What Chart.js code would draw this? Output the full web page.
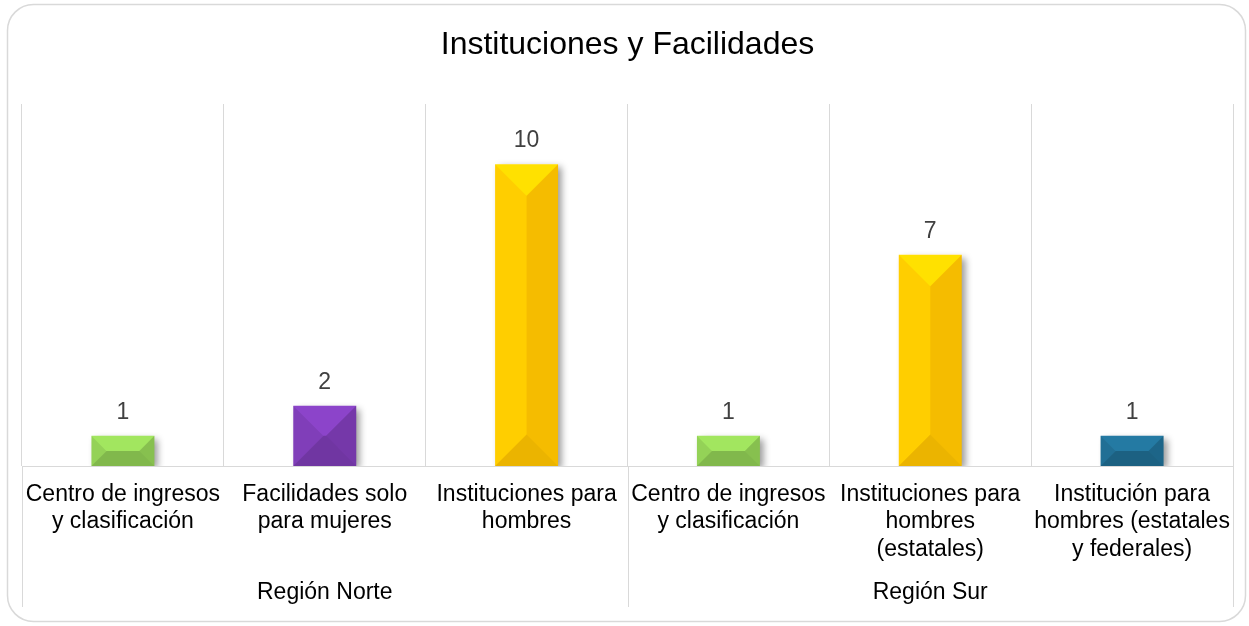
<!DOCTYPE html>
<html>
<head>
<meta charset="utf-8">
<script src="https://cdn.jsdelivr.net/npm/chart.js@4/dist/chart.umd.min.js"></script>
<style>
html,body{margin:0;padding:0;background:#fff;}
#wrap{position:relative;width:1249px;height:626px;}
</style>
</head>
<body>
<div id="wrap"><canvas id="c"></canvas></div>
<script>
const chartTitle = 'Instituciones y Facilidades';
const categories = [
  ['Centro de ingresos','y clasificación'],
  ['Facilidades solo','para mujeres'],
  ['Instituciones para','hombres'],
  ['Centro de ingresos','y clasificación'],
  ['Instituciones para','hombres','(estatales)'],
  ['Institución para','hombres (estatales','y federales)']
];
const regions = ['Región Norte','Región Sur'];
const regionSizes = [3, 3];
const values = [1, 2, 10, 1, 7, 1];
const barColors = ['#8DC853','#7A3BB0','#FFC400','#8DC853','#FFC400','#1F6A8E'];

const FONT = "'Liberation Sans', Arial, sans-serif";
const GRID = '#d9d9d9';

const frame = {
  id: 'frame',
  beforeDraw(chart) {
    const ctx = chart.ctx;
    ctx.save();
    ctx.fillStyle = '#fff';
    ctx.fillRect(0, 0, chart.width, chart.height);
    ctx.strokeStyle = GRID;
    ctx.lineWidth = 1.5;
    ctx.beginPath();
    ctx.roundRect(7.5, 4.5, chart.width - 11, chart.height - 9, 26);
    ctx.stroke();
    ctx.restore();
  }
};

const groupLines = {
  id: 'groupLines',
  afterDraw(chart) {
    const x = chart.scales.x, x2 = chart.scales.x2;
    const ctx = chart.ctx;
    const bounds = [x.left];
    let acc = 0;
    regionSizes.forEach(n => {
      acc += n;
      if (acc < categories.length) {
        bounds.push((x.getPixelForValue(acc - 1) + x.getPixelForValue(acc)) / 2);
      }
    });
    bounds.push(x.right);
    ctx.save();
    ctx.strokeStyle = GRID;
    ctx.lineWidth = 1;
    bounds.forEach(b => {
      const px = Math.round(b) + 0.5;
      ctx.beginPath();
      ctx.moveTo(px, chart.chartArea.bottom);
      ctx.lineTo(px, x2.bottom);
      ctx.stroke();
    });
    ctx.restore();
  }
};

function hexToRgba(hex, a) {
  const n = parseInt(hex.slice(1), 16);
  return 'rgba(' + ((n >> 16) & 255) + ',' + ((n >> 8) & 255) + ',' + (n & 255) + ',' + a + ')';
}

const bevel = {
  id: 'bevel',
  beforeDatasetsDraw(chart) {
    const ctx = chart.ctx;
    ctx.save();
    ctx.shadowColor = 'rgba(0,0,0,0.4)';
    ctx.shadowBlur = 7;
    ctx.shadowOffsetX = 4;
    ctx.shadowOffsetY = 3;
  },
  afterDatasetsDraw(chart) {
    const ctx = chart.ctx;
    ctx.restore();
    const meta = chart.getDatasetMeta(0);
    meta.data.forEach((bar, i) => {
      const p = bar.getProps(['x','y','width','base'], true);
      const l = p.x - p.width / 2, r = p.x + p.width / 2, t = p.y, b = p.base;
      const h = b - t;
      const d = Math.min(p.width / 2, h / 2);
      const poly = (pts, fill, op) => {
        ctx.save();
        ctx.globalCompositeOperation = op || 'source-over';
        ctx.beginPath();
        ctx.moveTo(pts[0][0], pts[0][1]);
        for (let k = 1; k < pts.length; k++) ctx.lineTo(pts[k][0], pts[k][1]);
        ctx.closePath();
        ctx.fillStyle = fill;
        ctx.fill();
        ctx.restore();
      };
      const c = barColors[i];
      poly([[l,t],[r,t],[r-d,t+d],[l+d,t+d]], hexToRgba(c, 0.15), 'lighter');
      poly([[l,t],[l+d,t+d],[l+d,b-d],[l,b]], hexToRgba(c, 0.05), 'lighter');
      poly([[r,t],[r,b],[r-d,b-d],[r-d,t+d]], 'rgba(0,0,0,0.04)');
      poly([[l,b],[l+d,b-d],[r-d,b-d],[r,b]], 'rgba(0,0,0,0.08)');
      ctx.save();
      ctx.fillStyle = '#404040';
      ctx.font = '23px ' + FONT;
      ctx.textAlign = 'center';
      ctx.textBaseline = 'alphabetic';
      ctx.fillText(String(values[i]), p.x, t - 17);
      ctx.restore();
    });
  }
};

new Chart(document.getElementById('c'), {
  type: 'bar',
  data: {
    labels: categories,
    datasets: [{
      data: values,
      backgroundColor: barColors,
      borderWidth: 0,
      categoryPercentage: 0.312,
      barPercentage: 1
    }]
  },
  options: {
    responsive: true,
    maintainAspectRatio: false,
    animation: false,
    devicePixelRatio: 1,
    layout: { padding: { left: 22, right: 16, top: 0, bottom: 19 } },
    plugins: {
      legend: { display: false },
      tooltip: { enabled: false },
      title: {
        display: true,
        text: chartTitle,
        color: '#000',
        font: { family: FONT, size: 32, weight: 'normal', lineHeight: 1.2 },
        padding: { top: 26, bottom: 39.6 }
      }
    },
    scales: {
      y: { display: false, min: 0, max: 12 },
      x: {
        offset: true,
        grid: { offset: true, color: GRID, lineWidth: 1, drawTicks: false },
        border: { color: GRID, width: 1 },
        afterFit(scale) { scale.height = 99; },
        ticks: {
          autoSkip: false, maxRotation: 0, minRotation: 0,
          padding: 15, color: '#000',
          font: { family: FONT, size: 23, lineHeight: 1.19 }
        }
      },
      x2: {
        type: 'category',
        labels: regions,
        position: 'bottom',
        offset: true,
        grid: { display: false, drawTicks: false },
        border: { display: false },
        afterFit(scale) { scale.height = 42; },
        ticks: {
          autoSkip: false, maxRotation: 0, padding: 14, color: '#000',
          font: { family: FONT, size: 23, lineHeight: 1.2 }
        }
      }
    }
  },
  plugins: [frame, groupLines, bevel]
});
</script>
</body>
</html>
